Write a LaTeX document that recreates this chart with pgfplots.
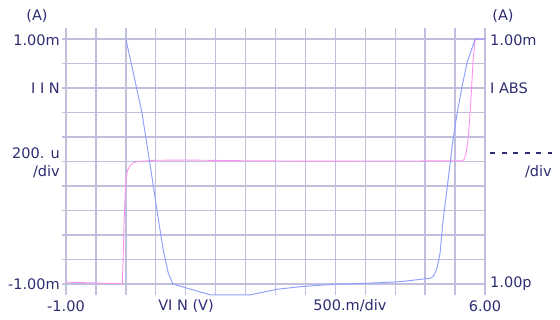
\documentclass[border=0pt]{standalone}
\usepackage{pgfplots}
\pgfplotsset{compat=1.18}
\usepackage{fontspec}
\setmainfont{DejaVu Sans}
\definecolor{txt}{RGB}{45,45,115}
\definecolor{gridc}{RGB}{192,192,222}
\definecolor{cblue}{RGB}{140,160,255}
\definecolor{cmag}{RGB}{255,145,240}
\begin{document}
\fontsize{14.5bp}{16bp}\selectfont
\begin{tikzpicture}
\useasboundingbox (-66bp,-25bp) rectangle (494bp,295bp);
\begin{axis}[
  at={(0bp,0bp)}, anchor=south west,
  width=419bp, height=267bp, scale only axis,
  xmin=-1, xmax=6, ymin=-1.09, ymax=1.09,
  xtick={-1,-0.5,0,0.5,1,1.5,2,2.5,3,3.5,4,4.5,5,5.5,6},
  ytick={-1,-0.8,-0.6,-0.4,-0.2,0,0.2,0.4,0.6,0.8,1},
  xticklabels={}, yticklabels={},
  grid=major, major grid style={gridc, line width=1.3bp},
  axis line style={draw=none},
  xtick style={draw=none},
  ytick style={gridc, line width=1.3bp},
  ytick pos=left, tick align=outside, major tick length=4bp,
]
\addplot[cmag, line width=0.9bp] coordinates {
(-1,-0.985) (-0.5,-0.992) (-0.1,-0.998) (-0.06,-1.0) (-0.045,-0.8) (-0.03,-0.5)
(-0.01,-0.25) (0.01,-0.12) (0.03,-0.07) (0.07,-0.035) (0.12,-0.012) (0.2,0.0)
(0.5,0.01) (1.0,0.012) (2.0,0.006) (3.0,0.003) (5.6,0.005) (5.65,0.015)
(5.68,0.06) (5.71,0.15) (5.74,0.32) (5.77,0.55) (5.80,0.82) (5.83,0.98)
(5.85,1.0) (6.0,1.0)};
\end{axis}
\begin{axis}[
  at={(0bp,0bp)}, anchor=south west,
  width=419bp, height=267bp, scale only axis,
  xmin=-1, xmax=6, ymode=log, ymin=4.05e-13, ymax=2.54e-3,
  hide axis,
]
\addplot[cblue, line width=0.95bp] coordinates {
(0.0,1.0e-3) (0.124,5.79e-5) (0.269,1.96e-6) (0.374,6.65e-8) (0.436,8.75e-9)
(0.519,5.37e-10) (0.624,1.82e-11) (0.708,2.60e-12) (0.786,1.02e-12)
(1.41,4.1e-13) (2.078,4.1e-13) (2.523,6.55e-13) (2.91,8.17e-13) (3.462,1.0e-12)
(4.025,1.09e-12) (4.58,1.25e-12) (5.082,1.66e-12) (5.13,1.91e-12) (5.166,2.60e-12)
(5.20,3.98e-12) (5.25,1.41e-11) (5.30,2.29e-10) (5.384,6.76e-9) (5.45,1.10e-7)
(5.516,1.10e-6) (5.616,1.78e-5) (5.70,1.35e-4) (5.834,1.0e-3) (6.0,1.0e-3)};
\end{axis}
\begin{scope}[every node/.style={text=txt, inner sep=0pt}]
\node at (-29bp,279bp) {(A)};
\node[anchor=east] at (-6bp,255bp) {1.00m};
\node[anchor=east] at (-6bp,207bp) {I I N};
\node[anchor=east] at (-6bp,142bp) {200. u};
\node[anchor=east] at (-6bp,123bp) {/div};
\node[anchor=east] at (-6bp,11bp) {-1.00m};
\node at (0bp,-11bp) {-1.00};
\node at (120bp,-11bp) {VI N (V)};
\node at (284bp,-11bp) {500.m/div};
\node at (419bp,-11bp) {6.00};
\node at (437bp,279bp) {(A)};
\node[anchor=west] at (424bp,255bp) {1.00m};
\node[anchor=west] at (424bp,207bp) {I ABS};
\node[anchor=east] at (486bp,123bp) {/div};
\node[anchor=west] at (424bp,11bp) {1.00p};
\end{scope}
\draw[txt, line width=1.1bp, dash pattern=on 5bp off 6.6bp] (424bp,142bp) -- (486bp,142bp);
\end{tikzpicture}
\end{document}
